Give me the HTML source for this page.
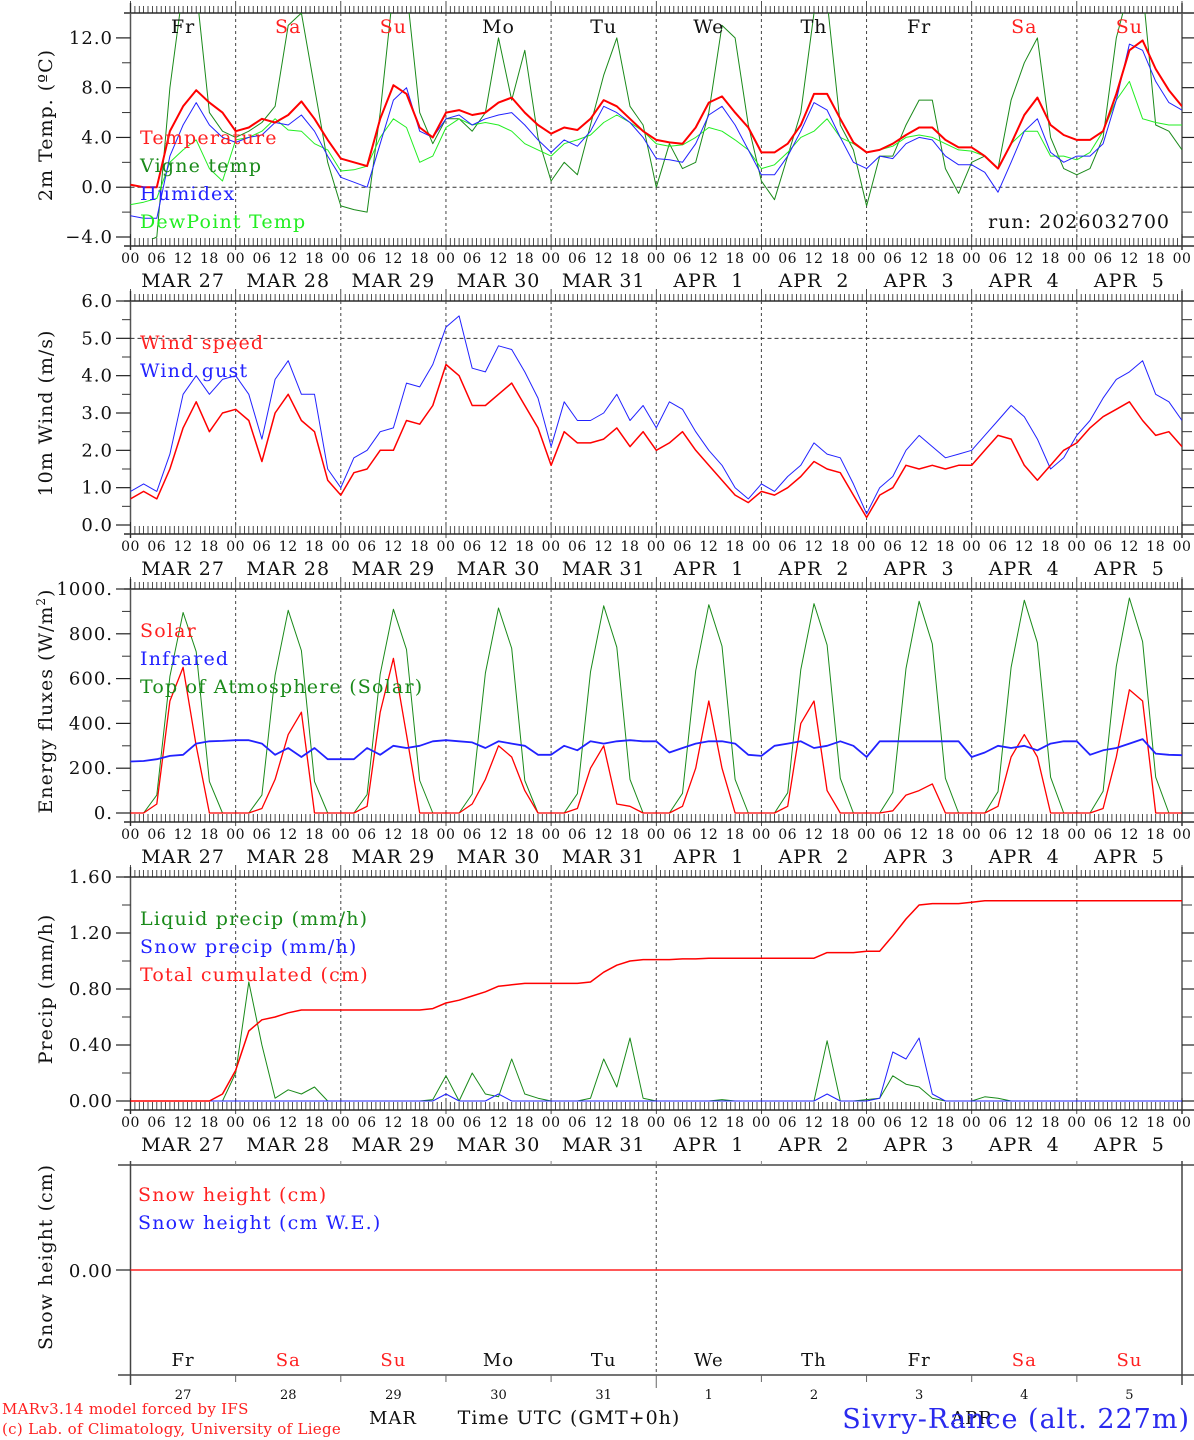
<!DOCTYPE html>
<html><head><meta charset="utf-8">
<style>
html,body{margin:0;padding:0;background:#fff;}
svg{display:block;font-family:"DejaVu Serif","Liberation Serif",serif;}
</style></head>
<body>
<svg id="chart" width="1194" height="1440" viewBox="0 0 1194 1440" xmlns="http://www.w3.org/2000/svg"></svg>
<script>
// ---- data: 3-hourly values, 81 points (Mar 27 00UTC .. Apr 6 00UTC) ----
const dayNames = ["Fr","Sa","Su","Mo","Tu","We","Th","Fr","Sa","Su"];
const dayNums = ["27","28","29","30","31","1","2","3","4","5"];
const monthLabels = ["MAR 27","MAR 28","MAR 29","MAR 30","MAR 31","APR  1","APR  2","APR  3","APR  4","APR  5"];
const hourLabels = ["00","06","12","18"];
const tempVals = [0.2,0.0,0.0,4.5,6.5,7.8,6.8,6.0, 4.5,4.8,5.5,5.2,5.8,6.9,5.5,3.8, 2.3,2.0,1.7,5.5,8.2,7.5,4.8,4.0, 6.0,6.2,5.8,6.0,6.8,7.2,6.0,5.0, 4.3,4.8,4.6,5.5,7.0,6.5,5.5,4.5, 3.8,3.6,3.5,4.8,6.8,7.3,6.0,4.8, 2.8,2.8,3.5,5.0,7.5,7.5,5.5,3.6, 2.8,3.0,3.5,4.2,4.8,4.8,3.8,3.2, 3.2,2.5,1.5,3.5,5.8,7.2,5.0,4.2, 3.8,3.8,4.5,7.5,11.0,11.8,9.5,7.8, 6.5];
const humidexVals = [-2.3,-2.5,-2.5,2.5,5.0,6.8,5.0,4.0, 3.6,4.0,4.2,5.2,5.0,5.8,4.5,2.5, 0.8,0.4,0.0,3.5,7.0,8.0,4.5,4.0, 5.5,5.8,5.0,5.5,5.8,6.0,5.0,3.8, 2.8,3.8,3.3,4.5,6.5,6.0,5.2,4.0, 2.3,2.2,2.0,3.5,5.8,6.5,5.0,3.0, 1.0,1.0,2.5,4.5,6.8,6.2,4.0,2.0, 1.5,2.5,2.3,3.5,4.0,3.8,2.5,1.8, 1.8,1.2,-0.4,2.0,4.5,5.5,2.8,2.0, 2.5,2.5,3.5,7.0,11.5,11.0,8.5,6.8, 6.2];
const dewVals = [-1.4,-1.2,-0.9,2.0,3.0,3.8,1.5,0.5, 3.8,4.0,4.5,5.5,4.6,4.5,3.5,3.0, 1.3,1.4,1.7,4.0,5.5,4.8,2.0,2.5, 4.8,5.5,5.0,5.2,5.0,4.5,3.5,3.0, 2.5,3.5,3.8,4.2,5.2,5.8,5.2,4.5, 3.5,3.3,3.4,4.0,4.8,4.5,3.8,3.0, 1.5,1.8,2.8,4.0,4.5,5.5,4.0,3.5, 2.8,3.0,3.3,4.0,4.2,4.0,3.5,3.0, 2.9,2.5,1.5,3.5,4.5,4.5,2.5,2.5, 2.2,2.8,4.5,7.0,8.5,5.5,5.2,5.0, 5.0];
const vigneVals = [-4.5,-4.5,-4.0,8,16,16,6,4.5, 4.0,4.5,5.2,6.5,13,14,8,2, -1.5,-1.8,-2,6,16,16,6,3.5, 5.5,5.5,4.5,6.0,12,7,11,4, 0.5,2.0,1.0,5.0,9,12,6.5,5, 0,3.5,1.5,2.0,6,13,12,5, 0.5,-1.0,2.5,6.0,14,15,5,3, -1.5,2.5,2.5,5.0,7,7,1.5,-0.5, 2.0,2.5,1.5,7.0,10,12,4,1.5, 1.0,1.5,4.0,12,16,16,5,4.5, 3.0];
const windVals = [0.7,0.9,0.7,1.5,2.6,3.3,2.5,3.0, 3.1,2.8,1.7,3.0,3.5,2.8,2.5,1.2, 0.8,1.4,1.5,2.0,2.0,2.8,2.7,3.2, 4.3,4.0,3.2,3.2,3.5,3.8,3.2,2.6, 1.6,2.5,2.2,2.2,2.3,2.6,2.1,2.5, 2.0,2.2,2.5,2.0,1.6,1.2,0.8,0.6, 0.9,0.8,1.0,1.3,1.7,1.5,1.4,0.8, 0.2,0.8,1.0,1.6,1.5,1.6,1.5,1.6, 1.6,2.0,2.4,2.3,1.6,1.2,1.6,2.0, 2.2,2.6,2.9,3.1,3.3,2.8,2.4,2.5, 2.1];
const gustVals = [0.9,1.1,0.9,1.9,3.5,4.0,3.5,3.9, 4.0,3.5,2.3,3.9,4.4,3.5,3.5,1.5, 1.0,1.8,2.0,2.5,2.6,3.8,3.7,4.3, 5.3,5.6,4.2,4.1,4.8,4.7,4.1,3.4, 2.1,3.3,2.8,2.8,3.0,3.5,2.8,3.2, 2.6,3.3,3.1,2.5,2.0,1.6,1.0,0.7, 1.1,0.9,1.3,1.6,2.2,1.9,1.8,1.1, 0.3,1.0,1.3,2.0,2.4,2.1,1.8,1.9, 2.0,2.4,2.8,3.2,2.9,2.3,1.5,1.8, 2.4,2.8,3.4,3.9,4.1,4.4,3.5,3.3, 2.8];
const solarVals = [0,0,40,500,650,300,0,0, 0,0,20,150,350,450,0,0, 0,0,30,450,690,350,0,0, 0,0,40,150,300,250,100,0, 0,0,20,200,300,40,30,0, 0,0,30,200,500,200,0,0, 0,0,30,400,500,100,0,0, 0,0,10,80,100,130,0,0, 0,0,30,250,350,250,0,0, 0,0,20,250,550,500,0,0, 0];
const infraredVals = [230,232,240,255,260,310,320,322, 325,325,310,260,290,250,290,240, 240,240,290,260,300,290,300,320, 325,320,315,290,320,310,300,260, 260,300,280,320,310,320,325,320, 320,270,290,310,320,320,310,260, 255,300,310,320,290,300,320,300, 250,320,320,320,320,320,320,320, 250,270,300,290,300,280,310,320, 320,260,280,290,310,330,265,260, 258];
const toaVals = [0,0,80,610,895,720,140,0, 0,0,80,615,905,725,140,0, 0,0,82,620,910,730,145,0, 0,0,85,625,915,735,145,0, 0,0,86,630,925,740,150,0, 0,0,88,635,930,745,150,0, 0,0,90,640,935,750,155,0, 0,0,92,645,945,755,155,0, 0,0,95,650,950,760,160,0, 0,0,97,655,960,765,160,0, 0];
const liquidVals = [0,0,0,0,0,0,0,0, 0.2,0.85,0.4,0.02,0.08,0.05,0.1,0, 0,0,0,0,0,0,0,0.01, 0.18,0,0.2,0.05,0.03,0.3,0.05,0.02, 0,0,0,0.02,0.3,0.1,0.45,0.02, 0,0,0,0,0,0.01,0,0, 0,0,0,0,0,0.43,0,0, 0.01,0.02,0.18,0.12,0.1,0.02,0,0, 0,0.03,0.02,0,0,0,0,0, 0,0,0,0,0,0,0,0, 0];
const snowPrecipVals = [0,0,0,0,0,0,0,0, 0,0,0,0,0,0,0,0, 0,0,0,0,0,0,0,0, 0.05,0,0,0,0.05,0,0,0, 0,0,0,0,0,0,0,0, 0,0,0,0,0,0,0,0, 0,0,0,0,0,0.05,0,0, 0,0.02,0.35,0.3,0.45,0.05,0,0, 0,0,0,0,0,0,0,0, 0,0,0,0,0,0,0,0, 0];
const cumulVals = [0,0,0,0,0,0,0,0.05, 0.22,0.5,0.58,0.6,0.63,0.65,0.65,0.65, 0.65,0.65,0.65,0.65,0.65,0.65,0.65,0.66, 0.7,0.72,0.75,0.78,0.82,0.83,0.84,0.84, 0.84,0.84,0.84,0.85,0.92,0.97,1.0,1.01, 1.01,1.01,1.015,1.015,1.02,1.02,1.02,1.02, 1.02,1.02,1.02,1.02,1.02,1.06,1.06,1.06, 1.07,1.07,1.18,1.3,1.4,1.41,1.41,1.41, 1.42,1.43,1.43,1.43,1.43,1.43,1.43,1.43, 1.43,1.43,1.43,1.43,1.43,1.43,1.43,1.43, 1.43];
const snowHeightVals = [0,0,0,0,0,0,0,0,0,0,0];

// ---- layout ----
const NS = "http://www.w3.org/2000/svg";
const svg = document.getElementById("chart");
const X0 = 130.5, X1 = 1182, DW = (X1 - X0) / 10;
function xAt(i, step) { return X0 + i * step / 24 * DW; }
function mk(tag, attrs, parent) {
  const e = document.createElementNS(NS, tag);
  for (const k in attrs) e.setAttribute(k, attrs[k]);
  (parent || svg).appendChild(e);
  return e;
}
function txt(s, x, y, size, fill, anchor, parent, ls) {
  const t = mk("text", {x: x, y: y, "font-size": size, fill: fill, "text-anchor": anchor || "start"}, parent);
  if (ls) t.setAttribute("letter-spacing", ls);
  t.textContent = s;
  return t;
}

function panel(cfg) {
  const g = mk("g", {});
  
  
  const yS = v => cfg.bot - (v - cfg.min) / (cfg.max - cfg.min) * (cfg.bot - cfg.top);
  const base = cfg.bot + 9;
  mk("line", {x1: 124, y1: cfg.top, x2: 1194, y2: cfg.top, stroke: "#000", "stroke-width": 1.2}, g);
  mk("line", {x1: 124, y1: base, x2: 1194, y2: base, stroke: "#000", "stroke-width": 1.2}, g);
  mk("line", {x1: X0, y1: cfg.top - 10, x2: X0, y2: base + 4, stroke: "#555", "stroke-width": 1.5}, g);
  mk("line", {x1: X1, y1: cfg.top - 10, x2: X1, y2: base + 4, stroke: "#555", "stroke-width": 1.5}, g);
  let d = "";
  for (let h = 0; h <= 240; h++) {
    const x = X0 + h / 24 * DW;
    const big = h % 24 === 0;
    d += `M${x.toFixed(1)} ${cfg.top - (big ? 12 : 7)}V${cfg.top}`;
    d += `M${x.toFixed(1)} ${base - (big ? 12 : 8)}V${base + (big ? 4 : 0)}`;
  }
  mk("path", {d: d, stroke: "#222", "stroke-width": 0.8, fill: "none"}, g);
  for (let k = 1; k < 10; k++) {
    const x = X0 + k * DW;
    mk("line", {x1: x, y1: cfg.top, x2: x, y2: cfg.bot, stroke: "#444", "stroke-dasharray": "3,3", "stroke-width": 1}, g);
  }
  for (const t of cfg.minor) {
    const y = yS(t);
    mk("line", {x1: 122, y1: y, x2: X0, y2: y, stroke: "#333", "stroke-width": 1}, g);
    mk("line", {x1: X1, y1: y, x2: 1192, y2: y, stroke: "#333", "stroke-width": 1}, g);
  }
  cfg.ticks.forEach((t, i) => {
    const y = yS(t);
    mk("line", {x1: 116, y1: y, x2: X0, y2: y, stroke: "#222", "stroke-width": 1.2}, g);
    mk("line", {x1: X1, y1: y, x2: 1194, y2: y, stroke: "#222", "stroke-width": 1.2}, g);
    const lab = txt(cfg.tickLabels[i], 113, y + 6, 18, "#111", "end", g, 1);
    
    
  });
  if (cfg.refLine !== undefined) {
    const y = yS(cfg.refLine);
    mk("line", {x1: X0, y1: y, x2: X1, y2: y, stroke: "#333", "stroke-dasharray": "4,3", "stroke-width": 1}, g);
  }
  for (let k = 0; k < 10; k++) {
    hourLabels.forEach((hl, j) => {
      const t = txt(hl, X0 + (k + j / 4) * DW, base + 17, 14, "#111", "middle", g, 0.5);
      
      
    });
    const m = txt(monthLabels[k], X0 + (k + 0.5) * DW, base + 41, 19, "#111", "middle", g, 1);
    m.setAttribute("xml:space", "preserve");
    m.style.whiteSpace = "pre";
    
    
  }
  txt("00", X1, base + 17, 14, "#111", "middle", g, 0.5);
  const at = txt(cfg.title, 0, 0, 19, "#111", "middle", g, 1);
  at.setAttribute("transform", `translate(52,${(cfg.top + cfg.bot) / 2}) rotate(-90)`);
  
  
  if (cfg.titleSup) {
    const ts = mk("tspan", {"font-size": 12, dy: -7}, at); ts.textContent = cfg.titleSup;
    const te = mk("tspan", {dy: 7}, at); te.textContent = ")";
  }
  const cid = "clip-" + cfg.name;
  const cp = mk("clipPath", {id: cid}, g);
  mk("rect", {x: X0, y: cfg.top, width: X1 - X0, height: cfg.bot - cfg.top + 2}, cp);
  const sg = mk("g", {"clip-path": `url(#${cid})`}, g);
  cfg.series.forEach(s => {
    const pts = s.vals.map((v, i) => xAt(i, s.step || 3).toFixed(1) + "," + yS(v).toFixed(1)).join(" ");
    const pl = mk("polyline", {points: pts, fill: "none", stroke: s.color, "stroke-width": s.w || 1, "stroke-linejoin": "round"}, sg);
    
    
  });
  cfg.legend.forEach((l, i) => {
    const t = txt(l.text, cfg.legX || 140, cfg.legY + i * 28, 19, l.color, "start", g, 1.2);
    
    
  });
  return {g: g, yS: yS};
}

const p1 = panel({name: "temperature-panel", top: 13, bot: 237, min: -4, max: 14,
  ticks: [12, 8, 4, 0, -4], tickLabels: ["12.0", "8.0", "4.0", "0.0", "\u22124.0"],
  minor: [10, 6, 2, -2], refLine: 0, title: "2m Temp. (\u00baC)",
  series: [
    {name: "vigne-temp-line", vals: vigneVals, color: "#1a8a1a"},
    {name: "dewpoint-line", vals: dewVals, color: "#22ee22"},
    {name: "humidex-line", vals: humidexVals, color: "#2222ff"},
    {name: "temperature-line", vals: tempVals, color: "#ff0000", w: 2}],
  legY: 144, legend: [{text: "Temperature", color: "#ff2020"}, {text: "Vigne temp", color: "#1a8a1a"}, {text: "Humidex", color: "#2222ff"}, {text: "DewPoint Temp", color: "#22ee22"}]});
dayNames.forEach((n, k) => {
  const t = txt(n, X0 + (k + 0.5) * DW, 33, 19, (n === "Sa" || n === "Su") ? "#ff2020" : "#111", "middle", p1.g, 1);
  
  
});
const run = txt("run: 2026032700", 1170, 228, 19, "#111", "end", p1.g, 1);



panel({name: "wind-panel", top: 301, bot: 525, min: 0, max: 6,
  ticks: [6, 5, 4, 3, 2, 1, 0], tickLabels: ["6.0", "5.0", "4.0", "3.0", "2.0", "1.0", "0.0"],
  minor: [5.5, 4.5, 3.5, 2.5, 1.5, 0.5], refLine: 5, title: "10m Wind (m/s)",
  series: [{name: "wind-gust-line", vals: gustVals, color: "#2222ff"}, {name: "wind-speed-line", vals: windVals, color: "#ff0000", w: 1.5}],
  legY: 349, legend: [{text: "Wind speed", color: "#ff2020"}, {text: "Wind gust", color: "#2222ff"}]});

panel({name: "energy-panel", top: 589, bot: 813, min: 0, max: 1000,
  ticks: [1000, 800, 600, 400, 200, 0], tickLabels: ["1000.", "800.", "600.", "400.", "200.", "0."],
  minor: [900, 700, 500, 300, 100], title: "Energy fluxes (W/m", titleSup: "2",
  series: [{name: "toa-solar-line", vals: toaVals, color: "#1a8a1a"}, {name: "solar-line", vals: solarVals, color: "#ff0000", w: 1.3}, {name: "infrared-line", vals: infraredVals, color: "#2222ff", w: 1.8}],
  legY: 637, legend: [{text: "Solar", color: "#ff2020"}, {text: "Infrared", color: "#2222ff"}, {text: "Top of Atmosphere (Solar)", color: "#1a8a1a"}]});

panel({name: "precip-panel", top: 877, bot: 1101, min: 0, max: 1.6,
  ticks: [1.6, 1.2, 0.8, 0.4, 0], tickLabels: ["1.60", "1.20", "0.80", "0.40", "0.00"],
  minor: [1.4, 1.0, 0.6, 0.2], title: "Precip (mm/h)",
  series: [{name: "liquid-precip-line", vals: liquidVals, color: "#1a8a1a"}, {name: "snow-precip-line", vals: snowPrecipVals, color: "#2222ff"}, {name: "cumulated-precip-line", vals: cumulVals, color: "#ff0000", w: 1.5}],
  legY: 925, legend: [{text: "Liquid precip (mm/h)", color: "#1a8a1a"}, {text: "Snow precip (mm/h)", color: "#2222ff"}, {text: "Total cumulated (cm)", color: "#ff2020"}]});

(function () {
  const g = mk("g", {});
  
  
  const top = 1165, bot = 1375, y0 = 1270;
  mk("line", {x1: 118, y1: top, x2: 1194, y2: top, stroke: "#222", "stroke-width": 1.2}, g);
  mk("line", {x1: 118, y1: bot, x2: 1194, y2: bot, stroke: "#222", "stroke-width": 1.2}, g);
  mk("line", {x1: X0, y1: top - 4, x2: X0, y2: bot + 10, stroke: "#444", "stroke-width": 1.5}, g);
  mk("line", {x1: X1, y1: top - 4, x2: X1, y2: bot + 10, stroke: "#444", "stroke-width": 1.5}, g);
  for (let k = 1; k < 10; k++) {
    const x = X0 + k * DW;
    mk("line", {x1: x, y1: top - 4, x2: x, y2: top, stroke: "#888", "stroke-width": 1}, g);
    mk("line", {x1: x, y1: bot, x2: x, y2: bot + (k === 5 ? 13 : 7), stroke: "#666", "stroke-width": 1}, g);
  }
  mk("line", {x1: X0 + 5 * DW, y1: top, x2: X0 + 5 * DW, y2: bot, stroke: "#444", "stroke-dasharray": "3,3"}, g);
  mk("line", {x1: 116, y1: y0, x2: X0, y2: y0, stroke: "#222", "stroke-width": 1.2}, g);
  const yl = txt("0.00", 113, y0 + 7, 18, "#111", "end", g, 1);
  
  
  const pts = snowHeightVals.map((v, i) => xAt(i, 24).toFixed(1) + "," + (y0 - v * 50).toFixed(1)).join(" ");
  const pl = mk("polyline", {points: pts, fill: "none", stroke: "#ff2020", "stroke-width": 1.5}, g);
  
  
  const at = txt("Snow height (cm)", 0, 0, 19, "#111", "middle", g, 1);
  at.setAttribute("transform", `translate(52,1257) rotate(-90)`);
  
  
  const l1 = txt("Snow height (cm)", 138, 1201, 19, "#ff2020", "start", g, 1.2);
  
  
  const l2 = txt("Snow height (cm W.E.)", 138, 1229, 19, "#2222ff", "start", g, 1.2);
  
  
  dayNames.forEach((n, k) => {
    const t = txt(n, X0 + (k + 0.5) * DW, 1366, 18, (n === "Sa" || n === "Su") ? "#ff2020" : "#111", "middle", g, 1);
    
    
    const d = txt(dayNums[k], X0 + (k + 0.5) * DW, 1399, 13, "#111", "middle", g);
    
    
  });
})();

const f1 = txt("MARv3.14 model forced by IFS", 2, 1414, 15, "#ff2020", "start", null, 0.3);


const f2 = txt("(c) Lab. of Climatology, University of Liege", 2, 1434, 15, "#ff2020", "start", null, 0.3);


const f3 = txt("MAR", 393, 1424, 18, "#111", "middle", null, 1);


const f4 = txt("Time UTC (GMT+0h)", 569, 1424, 19, "#111", "middle", null, 1);


const f5 = txt("APR", 972, 1424, 18, "#111", "middle", null, 1);


const f6 = txt("Sivry-Rance (alt. 227m)", 1190, 1428, 27, "#2a2aee", "end", null, 1);


</script>
</body></html>
